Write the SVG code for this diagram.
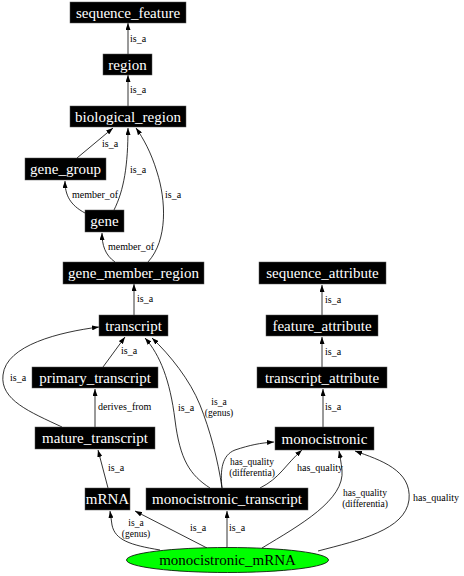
<svg xmlns="http://www.w3.org/2000/svg" width="464" height="576" viewBox="0 0 464 576">
<style>
.n rect{fill:#000;stroke:#555;stroke-width:0.5}
.n text{font-family:'Liberation Serif','Times New Roman',Times,serif;font-size:15px;fill:#fff;text-anchor:middle}
.e path{fill:none;stroke:#000;stroke-width:0.8;marker-end:url(#arr)}
.l{font-family:'Liberation Serif','Times New Roman',Times,serif;font-size:10px;fill:#000}
.c{text-anchor:middle;font-size:9.5px}
.m{font-family:'Liberation Serif','Times New Roman',Times,serif;font-size:15px;fill:#000;text-anchor:middle}
</style>
<defs>
<marker id="arr" viewBox="0 0 7 5" refX="7" refY="2.5" markerWidth="7" markerHeight="5" markerUnits="userSpaceOnUse" orient="auto">
<path d="M0,0 L7,2.5 L0,5 z" fill="#000"/>
</marker>
</defs>
<rect width="464" height="576" fill="#fff"/>
<g id="edges" class="e">
<path d="M128,54 L128,23"/>
<path d="M128,106 L128,75"/>
<path d="M77,158 L113,128"/>
<path d="M114,210 C124,190 128,165 128,128"/>
<path d="M148,262 C168,240 166,200 157,172 C151,152 143,138 136,128"/>
<path d="M85,213 C70,205 65,195 65,181"/>
<path d="M115,262 C105,255 102,245 102,233"/>
<path d="M134,315 L134,284"/>
<path d="M103,367 L125,337"/>
<path d="M62,427 C30,412 0,400 3,375 C6,345 60,332 99,327"/>
<path d="M95,427 L95,389"/>
<path d="M108,488 L98,450"/>
<path d="M210,488 C190,475 180,460 175,420 C170,380 160,355 145,338"/>
<path d="M222,488 C218,460 210,430 200,405 C190,380 170,355 152,338"/>
<path d="M222,488 C220,470 222,455 235,450 C250,445 260,443 274,442"/>
<path d="M260,488 C280,478 285,465 302,450"/>
<path d="M262,548 C300,525 345,500 342,470 C341,462 340,456 339,451"/>
<path d="M318,551 C360,540 405,530 409,500 C412,470 380,460 355,451"/>
<path d="M160,550 C130,545 115,540 112,525 L110,511"/>
<path d="M207,548 L135,511"/>
<path d="M227,548 L227,511"/>
<path d="M322,315 L322,285"/>
<path d="M322,367 L322,337"/>
<path d="M323,427 L323,389"/>
</g>
<g id="labels">
<text class="l" x="130" y="42">is_a</text>
<text class="l" x="130" y="93">is_a</text>
<text class="l" x="102" y="147">is_a</text>
<text class="l" x="130" y="173">is_a</text>
<text class="l" x="165" y="198">is_a</text>
<text class="l" x="72" y="198">member_of</text>
<text class="l" x="108" y="250">member_of</text>
<text class="l" x="137" y="302">is_a</text>
<text class="l" x="121" y="354">is_a</text>
<text class="l" x="10" y="381">is_a</text>
<text class="l" x="98" y="410">derives_from</text>
<text class="l" x="108" y="471">is_a</text>
<text class="l" x="178" y="411">is_a</text>
<text class="l c" x="219" y="405">is_a</text>
<text class="l c" x="219" y="416">(genus)</text>
<text class="l c" x="252" y="465">has_quality</text>
<text class="l c" x="252" y="476">(differentia)</text>
<text class="l" x="297" y="471">has_quality</text>
<text class="l c" x="365" y="496">has_quality</text>
<text class="l c" x="365" y="507">(differentia)</text>
<text class="l" x="413" y="501">has_quality</text>
<text class="l c" x="136" y="526">is_a</text>
<text class="l c" x="136" y="537">(genus)</text>
<text class="l" x="190" y="531">is_a</text>
<text class="l" x="229" y="531">is_a</text>
<text class="l" x="325" y="303">is_a</text>
<text class="l" x="325" y="355">is_a</text>
<text class="l" x="325" y="410">is_a</text>
</g>
<g id="sequence_feature" class="n"><rect x="70" y="2" width="116" height="21"/><text x="128" y="17.5">sequence_feature</text></g>
<g id="region" class="n"><rect x="103" y="54" width="49" height="21"/><text x="127.5" y="69.5">region</text></g>
<g id="biological_region" class="n"><rect x="70" y="106" width="116" height="21"/><text x="128" y="121.5">biological_region</text></g>
<g id="gene_group" class="n"><rect x="25" y="158" width="81" height="22"/><text x="65.5" y="174">gene_group</text></g>
<g id="gene" class="n"><rect x="85" y="210" width="39" height="22"/><text x="104.5" y="226">gene</text></g>
<g id="gene_member_region" class="n"><rect x="63" y="262" width="141" height="22"/><text x="133.5" y="278">gene_member_region</text></g>
<g id="transcript" class="n"><rect x="99" y="315" width="69" height="21"/><text x="133.5" y="330.5">transcript</text></g>
<g id="primary_transcript" class="n"><rect x="32" y="367" width="126" height="21"/><text x="95" y="382.5">primary_transcript</text></g>
<g id="mature_transcript" class="n"><rect x="35" y="427" width="120" height="22"/><text x="95" y="443">mature_transcript</text></g>
<g id="mRNA" class="n"><rect x="85" y="488" width="45" height="22"/><text x="107.5" y="504">mRNA</text></g>
<g id="monocistronic_transcript" class="n"><rect x="146" y="488" width="162" height="22"/><text x="227" y="504">monocistronic_transcript</text></g>
<g id="sequence_attribute" class="n"><rect x="259" y="262" width="127" height="22"/><text x="322.5" y="278">sequence_attribute</text></g>
<g id="feature_attribute" class="n"><rect x="266" y="315" width="112" height="21"/><text x="322" y="330.5">feature_attribute</text></g>
<g id="transcript_attribute" class="n"><rect x="257" y="367" width="130" height="21"/><text x="322" y="382.5">transcript_attribute</text></g>
<g id="monocistronic" class="n"><rect x="275" y="427" width="99" height="23"/><text x="324.5" y="443.5">monocistronic</text></g>
<g id="monocistronic_mRNA"><ellipse cx="227.5" cy="560" rx="101" ry="12.5" fill="#00ff00" stroke="#000" stroke-width="0.8"/><text class="m" x="227.5" y="565">monocistronic_mRNA</text></g>
</svg>
